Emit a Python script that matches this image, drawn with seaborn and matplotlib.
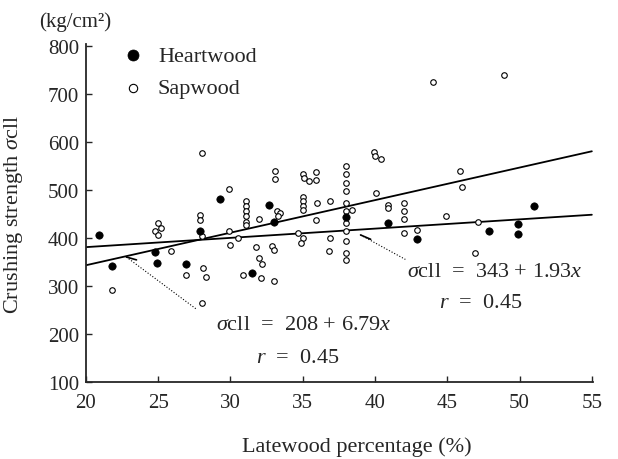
import numpy as np
import pandas as pd
import seaborn as sns
from matplotlib import pyplot as plt

# filled dots (heartwood)
heart_x = [20.9, 21.8, 24.8, 24.9, 26.9, 27.9, 29.3, 31.5, 32.7, 33.0,
           38.0, 40.9, 42.9, 47.9, 49.9, 49.9, 51.0]
heart_y = [406, 342, 371, 348, 347, 416, 483, 328, 470, 434,
           444, 432, 399, 416, 429, 408, 467]

# open circles (sapwood)
sap_x = [21.8, 25.0, 25.2, 24.8, 25.0, 25.9, 26.9, 28.0, 27.9, 27.9, 28.0,
         28.1, 28.3, 28.0, 29.9, 29.9, 30.5, 30.0,
         31.1, 31.1, 31.1, 31.1, 31.1, 31.1,
         30.9, 31.8, 32.0, 32.2, 32.0, 32.1, 33.0, 32.9, 33.0, 33.1, 33.1,
         33.2, 33.4, 33.3, 35.0, 35.1, 35.4, 35.9, 35.9,
         35.0, 35.0, 35.0, 35.0, 34.7, 35.0, 34.9, 35.9, 36.0, 36.9, 36.9, 36.8,
         38.0, 38.0, 38.0, 38.0, 38.0, 38.0, 38.0, 38.0, 38.0, 38.0, 38.0,
         38.4, 39.9, 40.0, 40.4, 40.1, 40.9, 40.9,
         42.0, 42.0, 42.0, 42.0, 42.9, 44.0, 48.9, 45.9, 46.0, 44.9, 47.1, 46.9]
sap_y = [293, 432, 422, 415, 407, 373, 324, 578, 449, 439, 404,
         338, 319, 265, 503, 416, 400, 387,
         477, 467, 456, 446, 435, 427,
         323, 381, 358, 347, 441, 317, 312, 383, 376, 541, 524,
         456, 452, 447, 534, 526, 519, 538, 522,
         487, 477, 467, 460, 411, 401, 390, 439, 474, 477, 401, 373,
         550, 534, 515, 498, 474, 456, 432, 416, 394, 369, 354,
         458, 581, 571, 566, 494, 469, 463,
         474, 456, 441, 411, 418, 726, 740, 540, 508, 446, 435, 369]

# regression equations printed on the chart (intercept, slope)
heart_fit = (343, 1.93)
sap_fit = (208, 6.79)

x_ticks = [20, 25, 30, 35, 40, 45, 50, 55]
y_ticks = [100, 200, 300, 400, 500, 600, 700, 800]

sns.set_style('ticks')
plt.rcParams['font.family'] = ['Liberation Serif', 'DejaVu Serif']
plt.rcParams['mathtext.fontset'] = 'custom'
plt.rcParams['mathtext.rm'] = 'Liberation Serif'
plt.rcParams['mathtext.it'] = 'Liberation Serif:italic'

heart = pd.DataFrame({'late': heart_x, 'strength': heart_y})
sap = pd.DataFrame({'late': sap_x, 'strength': sap_y})

fig = plt.figure(figsize=(6.18, 4.6), dpi=100)
ax = fig.add_axes([0.139, 0.167, 0.821, 0.735])

sns.scatterplot(data=sap, x='late', y='strength', ax=ax, s=16, marker='o',
                facecolor='white', edgecolor='black', linewidth=0.8,
                label='Sapwood', zorder=3)
sns.scatterplot(data=heart, x='late', y='strength', ax=ax, s=28, marker='o',
                color='black', edgecolor='black', linewidth=0.5,
                label='Heartwood', zorder=4)

fit_x = np.array([x_ticks[0], x_ticks[-1]])
for b, m in (heart_fit, sap_fit):
    sns.lineplot(x=fit_x, y=b + m * fit_x, ax=ax, color='black', lw=1.3, zorder=2)

# equation labels with dotted leaders
eq_size = 16
ax.plot([39.0, 42.1], [407, 356], ls=':', color='black', lw=0.8)
ax.plot([39.0, 39.7], [407, 398], color='black', lw=1.2)
ax.text(42.2, 330, r'$\sigma$cll  =  343 + 1.93$x$', fontsize=eq_size, va='center')
ax.text(47.3, 266, r'$r$  =  0.45', fontsize=eq_size, va='center', ha='center')

ax.plot([22.8, 27.7], [361, 251], ls=':', color='black', lw=0.8)
ax.plot([22.8, 23.5], [361, 355], color='black', lw=1.2)
ax.text(29.0, 220, r'$\sigma$cll  =  208 + 6.79$x$', fontsize=eq_size, va='center')
ax.text(31.8, 152, r'$r$  =  0.45', fontsize=eq_size, va='center')

ax.set_xlim(20, 55.1)
ax.set_ylim(100, 805)
ax.set_xticks(x_ticks)
ax.set_yticks(y_ticks)
ax.tick_params(direction='in', length=4, width=1, labelsize=15)
ax.tick_params(axis='x', pad=8)
ax.tick_params(axis='y', pad=5)
sns.despine(ax=ax)
for sp in ('left', 'bottom'):
    ax.spines[sp].set_linewidth(1.3)

ax.set_xlabel('Latewood percentage (%)', fontsize=16)
ax.xaxis.set_label_coords(0.534, -0.16)
ax.set_ylabel(r'Crushing strength $\sigma$cll', fontsize=16)
ax.yaxis.set_label_coords(-0.12, 0.5)
fig.text(0.121, 0.952, '(kg/cm²)', fontsize=15, ha='center', va='center')

handles, labels = ax.get_legend_handles_labels()
ax.legend(handles[::-1], labels[::-1], loc='upper left', bbox_to_anchor=(0.05, 1.03),
          frameon=False, fontsize=16, markerscale=1.5, handlelength=1,
          handletextpad=0.6, labelspacing=0.55, borderpad=0)

fig.savefig('out.png', dpi=100)
